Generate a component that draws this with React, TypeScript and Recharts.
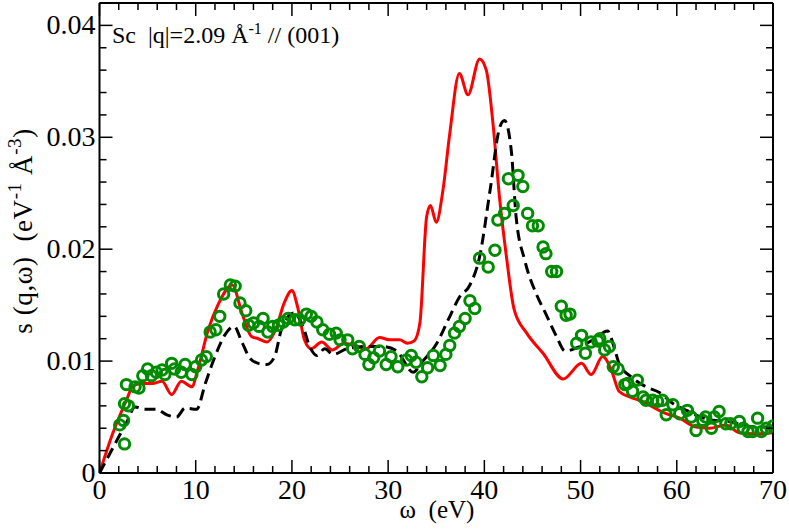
import React from 'react';
import { ComposedChart, Line, Scatter, XAxis, YAxis } from 'recharts';

// ---- data (omega in eV, s(q,omega) in eV^-1 A^-3) ----
const redCurve: [number, number][] = [
  [0, 0], [1.4, 0.0036], [2.8, 0.0065], [3.5, 0.0078], [4.5, 0.0080], [5.5, 0.0080], [6.5, 0.0082],
  [7.5, 0.0070], [8.5, 0.0082], [9.6, 0.0077], [10.2, 0.0092], [11.3, 0.0128], [12.3, 0.0150],
  [13.8, 0.0168], [14.8, 0.0143], [15.8, 0.0122], [16.5, 0.0120], [17.4, 0.0117], [18.3, 0.0128],
  [19.2, 0.0152], [20.0, 0.0163], [20.6, 0.0148], [21.3, 0.0119], [22.0, 0.0111], [23.1, 0.0117],
  [24.2, 0.0110], [25.4, 0.0116], [27.7, 0.0111], [29.1, 0.0121], [30.2, 0.0119], [31.2, 0.0119],
  [32.0, 0.0116], [32.7, 0.0118], [33.3, 0.0134], [34.0, 0.0229], [34.4, 0.0239], [35.0, 0.0224],
  [35.7, 0.0253], [36.4, 0.0303], [37.4, 0.0357], [38.3, 0.0338], [39.5, 0.0370], [40.2, 0.0360],
  [40.9, 0.0312], [41.6, 0.0244], [42.3, 0.0193], [43.1, 0.0146], [44.4, 0.0125], [46.1, 0.0107],
  [48.2, 0.0084], [50.1, 0.0098], [51.1, 0.0088], [52.3, 0.0104], [53.2, 0.0092], [54.0, 0.0073],
  [55.1, 0.0068], [56.1, 0.0065], [58.9, 0.0053], [60.3, 0.0049], [62.0, 0.0041], [63.4, 0.0040],
  [65.1, 0.0043], [66.5, 0.0036], [68.0, 0.0035], [70.0, 0.0036],
];

const blackCurve: [number, number][] = [
  [0, 0], [1.8, 0.0029], [2.8, 0.0045], [3.7, 0.0059], [4.7, 0.0057], [5.9, 0.0057], [7.0, 0.0052],
  [8.0, 0.0050], [8.9, 0.0058], [10.1, 0.0057], [11.0, 0.0080], [12.0, 0.0104], [13.0, 0.0123],
  [14.0, 0.0131], [14.8, 0.0117], [15.6, 0.0103], [16.5, 0.0098], [17.4, 0.0097], [18.2, 0.0104],
  [18.9, 0.0128], [20.2, 0.0143], [21.1, 0.0132], [21.9, 0.0112], [22.6, 0.0105], [23.4, 0.0111],
  [24.3, 0.0106], [25.7, 0.0111], [27.7, 0.0113], [29.5, 0.0113], [30.9, 0.0109], [32.6, 0.0090],
  [33.6, 0.0100], [35.0, 0.0115], [36.3, 0.0138], [37.4, 0.0157], [38.5, 0.0168], [39.5, 0.0193],
  [40.6, 0.0253], [41.6, 0.0309], [42.1, 0.0315], [42.8, 0.0288], [43.3, 0.0229], [44.2, 0.0190],
  [45.4, 0.0160], [46.4, 0.0142], [47.5, 0.0122], [48.4, 0.0109], [49.9, 0.0113], [51.5, 0.0120],
  [52.8, 0.0127], [53.5, 0.0112], [54.0, 0.0098], [55.4, 0.0085], [56.8, 0.0077], [58.2, 0.0072],
  [59.6, 0.0062], [61.0, 0.0056], [62.5, 0.0050], [64.0, 0.0047], [65.5, 0.0046], [66.9, 0.0043],
  [68.2, 0.0041], [70.0, 0.0041],
];

const greenPoints: [number, number][] = [
  [2.1, 0.0043], [2.5, 0.0047], [2.6, 0.0026], [2.6, 0.0062], [2.8, 0.0079], [3.0, 0.0060],
  [3.7, 0.0077], [4.1, 0.0076], [4.5, 0.0087], [5.0, 0.0093], [5.4, 0.0087], [5.9, 0.0090],
  [6.5, 0.0092], [6.8, 0.0088], [7.5, 0.0098], [7.8, 0.0093], [8.5, 0.0090], [8.9, 0.0097],
  [9.6, 0.0088], [10.0, 0.0095], [10.6, 0.0101], [11.1, 0.0104], [11.5, 0.0126], [12.1, 0.0128],
  [12.5, 0.0140], [12.9, 0.0160], [13.6, 0.0168], [14.1, 0.0167], [14.6, 0.0152], [15.2, 0.0145],
  [15.5, 0.0132], [16.0, 0.0134], [16.6, 0.0131], [17.0, 0.0138], [17.5, 0.0126], [18.0, 0.0131],
  [18.6, 0.0132], [19.1, 0.0135], [19.6, 0.0138], [20.3, 0.0137], [20.8, 0.0137], [21.5, 0.0142],
  [22.0, 0.0140], [22.6, 0.0135], [23.2, 0.0128], [23.9, 0.0124], [24.6, 0.0125], [25.0, 0.0119],
  [25.8, 0.0119], [26.3, 0.0111], [27.0, 0.0113], [27.6, 0.0106], [28.0, 0.0097], [28.5, 0.0103],
  [29.1, 0.0109], [29.8, 0.0097], [30.3, 0.0104], [31.0, 0.0095], [31.9, 0.0101], [32.4, 0.0105],
  [32.9, 0.0099], [33.5, 0.0086], [34.1, 0.0094], [34.7, 0.0105], [35.4, 0.0096], [36.0, 0.0106],
  [36.4, 0.0114], [36.9, 0.0125], [37.4, 0.0131], [38.0, 0.0138], [38.5, 0.0154], [39.0, 0.0147],
  [39.5, 0.0192], [40.4, 0.0184], [41.1, 0.0199], [41.4, 0.0226], [42.1, 0.0232], [42.5, 0.0263],
  [43.0, 0.0239], [43.5, 0.0266], [44.0, 0.0256], [44.5, 0.0232], [45.0, 0.0221], [45.6, 0.0221],
  [46.1, 0.0202], [46.4, 0.0196], [47.0, 0.0180], [47.5, 0.0180], [48.0, 0.0149], [48.5, 0.0141],
  [48.9, 0.0142], [49.6, 0.0116], [50.1, 0.0123], [50.5, 0.0107], [51.1, 0.0117], [51.8, 0.0118],
  [52.0, 0.0120], [52.5, 0.0110], [53.0, 0.0113], [53.4, 0.0095], [53.9, 0.0093], [54.6, 0.0079],
  [54.9, 0.0080], [55.4, 0.0073], [55.9, 0.0083], [56.5, 0.0068], [56.8, 0.0065], [57.5, 0.0065],
  [58.0, 0.0064], [58.5, 0.0065], [58.9, 0.0052], [59.6, 0.0061], [60.3, 0.0053], [61.1, 0.0056],
  [61.5, 0.0050], [62.0, 0.0038], [62.7, 0.0047], [63.0, 0.0050], [63.6, 0.0040], [63.9, 0.0050],
  [64.4, 0.0055], [65.1, 0.0044], [65.6, 0.0044], [66.5, 0.0046], [66.9, 0.0040], [67.4, 0.0037],
  [67.9, 0.0037], [68.4, 0.0049], [68.8, 0.0037], [69.3, 0.0040], [70.0, 0.0042],
];

const xTickValues = Array.from({ length: 36 }, (_, i) => i * 2);
const xTickLabels = ['0', '10', '20', '30', '40', '50', '60', '70'];
const yTickValues = Array.from({ length: 22 }, (_, i) => Math.round(i * 2) / 1000);
const yTickLabels = ['0', '0.01', '0.02', '0.03', '0.04'];

const toRows = (arr: [number, number][]) => arr.map(([x, y]) => ({ x, y }));
const redData = toRows(redCurve);
const blackData = toRows(blackCurve);
const greenData = toRows(greenPoints);

const W = 789;
const H = 529;
const FONT = '"Liberation Serif", "DejaVu Serif", serif';
const MAJOR = 13;
const MINOR = 7;

const isMajorX = (v: number) => Math.abs(v / 10 - Math.round(v / 10)) < 1e-6;
const isMajorY = (v: number) => Math.abs(v / 0.01 - Math.round(v / 0.01)) < 1e-6;

const BottomTick = (p: any) => {
  const v = p.payload.value;
  const major = isMajorX(v);
  return (
    <g>
      <line x1={p.x} x2={p.x} y1={p.y} y2={p.y - (major ? MAJOR : MINOR)} stroke="#000" strokeWidth={1.5} />
      {major && (
        <text x={p.x} y={p.y + 26} textAnchor="middle" fontSize={28} fontFamily={FONT} fill="#000">
          {xTickLabels[Math.round(v / 10)]}
        </text>
      )}
    </g>
  );
};

const TopTick = (p: any) => {
  const v = p.payload.value;
  const major = isMajorX(v);
  return <line x1={p.x} x2={p.x} y1={p.y} y2={p.y + (major ? MAJOR : MINOR)} stroke="#000" strokeWidth={1.5} />;
};

const LeftTick = (p: any) => {
  const v = p.payload.value;
  const major = isMajorY(v);
  return (
    <g>
      <line x1={p.x} x2={p.x + (major ? MAJOR : MINOR)} y1={p.y} y2={p.y} stroke="#000" strokeWidth={1.5} />
      {major && (
        <text x={p.x - 4} y={p.y + 9} textAnchor="end" fontSize={28} fontFamily={FONT} fill="#000">
          {yTickLabels[Math.round(v / 0.01)]}
        </text>
      )}
    </g>
  );
};

const RightTick = (p: any) => {
  const v = p.payload.value;
  const major = isMajorY(v);
  return <line x1={p.x} x2={p.x - (major ? MAJOR : MINOR)} y1={p.y} y2={p.y} stroke="#000" strokeWidth={1.5} />;
};

const Circle = (p: any) => (
  <circle cx={p.cx} cy={p.cy} r={5.2} fill="none" stroke="#008c00" strokeWidth={3} />
);

const axisLine = { stroke: '#000', strokeWidth: 2 };

export default function App() {
  return (
    <div style={{ position: 'relative', width: W, height: H, background: '#fff' }}>
      <style>{`body{margin:0;background:#fff}`}</style>
      <ComposedChart width={W} height={H} margin={{ top: 2, right: 15, bottom: 55, left: 98.5 }}>
        <XAxis
          xAxisId="b"
          dataKey="x"
          type="number"
          domain={[0, 70]}
          ticks={xTickValues}
          interval={0}
          height={1}
          tickSize={0}
          tickMargin={0}
          tickLine={false}
          axisLine={axisLine}
          tick={<BottomTick />}
          allowDataOverflow
        />
        <XAxis
          xAxisId="t"
          orientation="top"
          dataKey="x"
          type="number"
          domain={[0, 70]}
          ticks={xTickValues}
          interval={0}
          height={1}
          tickSize={0}
          tickMargin={0}
          tickLine={false}
          axisLine={axisLine}
          tick={<TopTick />}
          allowDataOverflow
        />
        <YAxis
          yAxisId="l"
          type="number"
          domain={[0, 0.042]}
          ticks={yTickValues}
          interval={0}
          width={1}
          tickSize={0}
          tickMargin={0}
          tickLine={false}
          axisLine={axisLine}
          tick={<LeftTick />}
          allowDataOverflow
        />
        <YAxis
          yAxisId="r"
          orientation="right"
          type="number"
          domain={[0, 0.042]}
          ticks={yTickValues}
          interval={0}
          width={1}
          tickSize={0}
          tickMargin={0}
          tickLine={false}
          axisLine={axisLine}
          tick={<RightTick />}
          allowDataOverflow
        />
        <Line
          xAxisId="b"
          yAxisId="l"
          data={redData}
          dataKey="y"
          type="monotone"
          stroke="#ff0000"
          strokeWidth={3}
          dot={false}
          isAnimationActive={false}
        />
        <Line
          xAxisId="b"
          yAxisId="l"
          data={blackData}
          dataKey="y"
          type="monotone"
          stroke="#000"
          strokeWidth={3}
          strokeDasharray="11 6"
          dot={false}
          isAnimationActive={false}
        />
        <Scatter
          xAxisId="b"
          yAxisId="l"
          data={greenData}
          dataKey="y"
          shape={<Circle />}
          isAnimationActive={false}
        />
      </ComposedChart>
      <svg
        width={W}
        height={H}
        style={{ position: 'absolute', left: 0, top: 0, pointerEvents: 'none' }}
        fontFamily={FONT}
      >
        <text x={112} y={43} fontSize={24} fill="#000" style={{ whiteSpace: 'pre' }}>
          {'Sc  |q|=2.09 Å'}
          <tspan dy={-9} fontSize={16}>-1</tspan>
          <tspan dy={9}>{' // (001)'}</tspan>
        </text>
        <text x={437} y={518} fontSize={25} textAnchor="middle" fill="#000" style={{ whiteSpace: 'pre' }}>
          {'ω  (eV)'}
        </text>
        <text
          transform="translate(32,231) rotate(-90)"
          fontSize={27}
          letterSpacing={0.6}
          textAnchor="middle"
          fill="#000"
          style={{ whiteSpace: 'pre' }}
        >
          {'s (q,ω)  (eV'}
          <tspan dy={-11} fontSize={19}>-1</tspan>
          <tspan dy={11}>{' Å'}</tspan>
          <tspan dy={-11} fontSize={19}>-3</tspan>
          <tspan dy={11}>)</tspan>
        </text>
      </svg>
    </div>
  );
}
